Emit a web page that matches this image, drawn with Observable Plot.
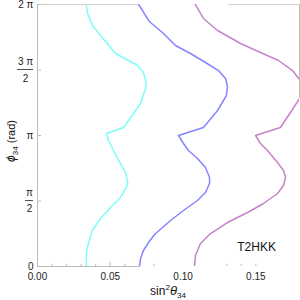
<!DOCTYPE html>
<html><head><meta charset="utf-8">
<script src="https://cdn.jsdelivr.net/npm/d3@7"></script>
<script src="https://cdn.jsdelivr.net/npm/@observablehq/plot@0.6"></script>
<style>body{margin:0;background:#fff} svg{display:block}</style>
</head><body><div id="chart"></div>
<script>
const PI = Math.PI;
// curves: sin^2(theta34) at given phi34 (rad)
const cyanX = [0.0335,0.0337,0.0376,0.0433,0.0502,0.0570,0.0611,0.0620,0.0605,0.0557,0.0522,0.0488,0.0474,0.0591,0.0660,0.0708,0.0742,0.0747,0.0728,0.0687,0.0625,0.0536,0.0502,0.0433,0.0378,0.0344,0.0335];
const cyanPhi = [0,0.384,0.863,1.151,1.415,1.655,1.895,2.014,2.254,2.542,2.782,3.022,3.190,3.333,3.669,3.909,4.269,4.413,4.653,4.820,4.940,5.108,5.252,5.540,5.780,6.067,6.283];
const blueX = [0.0701,0.0708,0.0728,0.0763,0.0804,0.0859,0.0914,0.1003,0.1099,0.1154,0.1182,0.1182,0.1154,0.1099,0.1037,0.1003,0.0969,0.1140,0.1237,0.1298,0.1305,0.1292,0.1243,0.1154,0.1051,0.0948,0.0866,0.0776,0.0763,0.0742,0.0722,0.0694];
const bluePhi = [0,0.192,0.384,0.576,0.767,0.935,1.103,1.343,1.583,1.775,1.990,2.134,2.374,2.590,2.782,2.950,3.142,3.333,3.741,4.101,4.317,4.509,4.700,4.892,5.108,5.300,5.588,5.852,5.900,6.019,6.139,6.283];
const magentaX = [0.1079,0.1085,0.1120,0.1189,0.1305,0.1443,0.1553,0.1649,0.1690,0.1704,0.1690,0.1649,0.1580,0.1532,0.1498,0.1669,0.1738,0.1800,0.1827,0.1800,0.1752,0.1656,0.1532,0.1395,0.1237,0.1140,0.1085];
const magentaPhi = [0,0.264,0.552,0.791,1.055,1.295,1.511,1.751,1.943,2.134,2.302,2.494,2.782,2.950,3.142,3.333,3.693,4.029,4.269,4.485,4.700,4.940,5.132,5.348,5.660,5.948,6.283];

const xTickValues = [0, 0.05, 0.10, 0.15];
const xTickLabels = ["0.00", "0.05", "0.10", "0.15"];
const xMajorVisible = [0, 0.05];
const xMinorVisible = [0.01, 0.02, 0.03, 0.04, 0.06, 0.07, 0.08, 0.13, 0.14, 0.15];
const yTickValues = [0, PI/2, PI, 3*PI/2, 2*PI];
const ySimpleTicks = [0, PI, 2*PI];
const ySimpleLabels = ["0", "π", "2 π"];
const yHalfTick = PI/2, yHalfNum = "π", yHalfDen = "2";
const yThreeHalfTick = 3*PI/2, yThreeHalfNum = "3 π", yThreeHalfDen = "2";
const topFrameSegs = [[0, 0.0687], [0.1312, 0.18]];
const bottomFrameSegs = [[0, 0.0707]];
const rightFrameSeg = [[4.029, 2*PI]];
const labelText = "T2HKK";

const W = 300, H = 300, mL = 37, mR = 1, mT = 4, mB = 34;
const yPerPx = 2*PI / (H - mT - mB);
const xPerPx = 0.18 / (W - mL - mR);
const frameColor = "#bdbdbd";
const txt = "#222";

const toRows = (xs, ys) => xs.map((x, i) => ({x, y: ys[i]}));
const idx = a => a.map((_, i) => i);

const chart = Plot.plot({
  width: W, height: H,
  marginLeft: mL, marginRight: mR, marginTop: mT, marginBottom: mB,
  x: {domain: [0, 0.18], axis: null},
  y: {domain: [0, 2*PI], axis: null},
  style: {fontFamily: "Liberation Sans, Arial, sans-serif", fontSize: "10px", color: txt, background: "#fff"},
  marks: [
    // frame pieces
    Plot.ruleX([0], {y1: 0, y2: 2*PI, stroke: frameColor}),
    Plot.ruleY(bottomFrameSegs, {y: 0, x1: d => d[0], x2: d => d[1], stroke: frameColor}),
    Plot.ruleY(topFrameSegs, {y: 2*PI, x1: d => d[0], x2: d => d[1], stroke: "#cfcfcf"}),
    Plot.ruleX(rightFrameSeg, {x: 0.18, y1: d => d[0], y2: d => d[1], stroke: frameColor}),
    // ticks
    Plot.ruleX(xMajorVisible, {x: d => d, y1: 0, y2: 4*yPerPx, stroke: frameColor}),
    Plot.ruleX(xMinorVisible, {x: d => d, y1: 0, y2: 2.2*yPerPx, stroke: frameColor}),
    Plot.ruleY(yTickValues, {y: d => d, x1: 0, x2: 4*xPerPx, stroke: frameColor}),
    // curves
    Plot.line(toRows(cyanX, cyanPhi), {x: "x", y: "y", stroke: "#7ffcfc", strokeWidth: 1.5, clip: true}),
    Plot.line(toRows(blueX, bluePhi), {x: "x", y: "y", stroke: "#8585ff", strokeWidth: 1.5, clip: true}),
    Plot.line(toRows(magentaX, magentaPhi), {x: "x", y: "y", stroke: "#c584c8", strokeWidth: 1.5, clip: true}),
    // tick labels
    Plot.text(idx(xTickValues), {x: i => xTickValues[i], y: 0, text: i => xTickLabels[i], dy: 10, lineAnchor: "middle", fill: txt}),
    Plot.text(idx(ySimpleTicks), {x: 0, y: i => ySimpleTicks[i], text: i => ySimpleLabels[i], dx: -4, textAnchor: "end", lineAnchor: "middle", fill: txt}),
    Plot.text([yHalfNum], {x: 0, y: yHalfTick, text: d => d, dx: -8, dy: -8, textAnchor: "middle", lineAnchor: "middle", fill: txt}),
    Plot.text([yHalfDen], {x: 0, y: yHalfTick, text: d => d, dx: -8, dy: 8, textAnchor: "middle", lineAnchor: "middle", fill: txt}),
    Plot.text([yThreeHalfNum], {x: 0, y: yThreeHalfTick, text: d => d, dx: -12, dy: -8, textAnchor: "middle", lineAnchor: "middle", fill: txt}),
    Plot.text([yThreeHalfDen], {x: 0, y: yThreeHalfTick, text: d => d, dx: -12, dy: 9, textAnchor: "middle", lineAnchor: "middle", fill: txt}),
    // annotation
    Plot.text([labelText], {x: 0.1505, y: 0.456, text: d => d, fontSize: 12, textAnchor: "middle", lineAnchor: "middle", fill: "#111"})
  ]
});

const svg = d3.select(chart);
const ys = chart.scale("y");
// fraction bars
[[yHalfTick, mL - 12], [yThreeHalfTick, mL - 20]].forEach(([v, x1]) => {
  const yy = ys.apply(v);
  svg.append("line").attr("x1", x1).attr("x2", mL - 4).attr("y1", yy).attr("y2", yy)
    .attr("stroke", txt).attr("stroke-width", 0.8);
});
// x axis label
const xl = svg.append("text").attr("x", (mL + W - mR) / 2).attr("y", H - 5)
  .attr("text-anchor", "middle").attr("font-size", 12).attr("fill", "#111")
  .attr("font-family", "Liberation Sans, Arial, sans-serif");
xl.append("tspan").text("sin");
xl.append("tspan").attr("font-size", 8).attr("dy", -5).text("2");
xl.append("tspan").attr("font-style", "italic").attr("font-size", 13).attr("dy", 5).text("θ");
xl.append("tspan").attr("font-size", 8).attr("dy", 3).text("34");
// y axis label
const yl = svg.append("text").attr("transform", `translate(15,${ys.apply(PI) + 6}) rotate(-90)`)
  .attr("text-anchor", "middle").attr("font-size", 11).attr("fill", "#111")
  .attr("font-family", "Liberation Sans, Arial, sans-serif");
yl.append("tspan").attr("font-style", "italic").attr("font-size", 12).text("ϕ");
yl.append("tspan").attr("font-size", 8).attr("dy", 3).text("34");
yl.append("tspan").attr("dy", -3).text(" (rad)");

document.getElementById("chart").appendChild(chart);
</script>
</body></html>
